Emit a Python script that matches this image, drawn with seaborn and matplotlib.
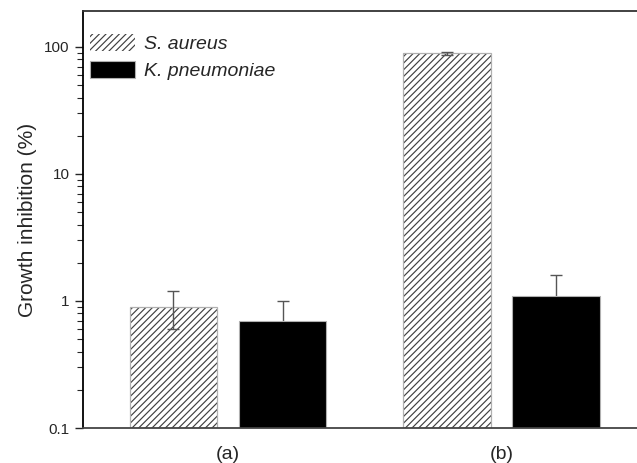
import matplotlib
matplotlib.use("Agg")
import matplotlib.pyplot as plt
from matplotlib.patches import Rectangle
import seaborn as sns
import pandas as pd
import numpy as np

categories = ["(a)", "(b)"]
species = ["S. aureus", "K. pneumoniae"]
s_aureus = [0.9, 89.0]
s_aureus_err = [0.3, 3.0]
k_pneu = [0.7, 1.1]
k_pneu_err = [0.3, 0.5]

df = pd.DataFrame({
    "cat": categories * 2,
    "species": [species[0]] * 2 + [species[1]] * 2,
    "val": s_aureus + k_pneu,
})

sns.set_style("ticks")
plt.rcParams["font.family"] = ["Liberation Sans", "DejaVu Sans"]
plt.rcParams["hatch.linewidth"] = 0.85

fig = plt.figure(figsize=(6.37, 4.63), dpi=100)
ax = fig.add_axes([83 / 637, 1 - 428 / 463, (646.5 - 83) / 637, (428 - 11) / 463])
ax.set_yscale("log")
sns.barplot(data=df, x="cat", y="val", hue="species", hue_order=species,
            palette=["white", "black"], width=0.8, gap=0.2, errorbar=None,
            legend=False, ax=ax, edgecolor="#b0b0b0", linewidth=0.8)

bar_conts = list(ax.containers)
errs = [s_aureus_err, k_pneu_err]
vals = [s_aureus, k_pneu]
for i, cont in enumerate(bar_conts):
    for j, p in enumerate(cont):
        if i == 0:
            p.set_hatch("/////")
            p.set_edgecolor("#404040")
            p.set_linewidth(0)
            outline = Rectangle(p.get_xy(), p.get_width(), p.get_height(),
                                fill=False, edgecolor="#b0b0b0", linewidth=0.9,
                                zorder=p.get_zorder() + 0.1)
            ax.add_patch(outline)
        xc = p.get_x() + p.get_width() / 2
        ax.errorbar(xc, vals[i][j], yerr=errs[i][j], color="#555555", lw=1.0,
                    capsize=4, capthick=1.0, zorder=3 if i == 0 else 0.5)

ax.set_ylim(0.1, 192)
ax.set_xlim(-0.53, 1.53)
ax.set_xlabel("")
ax.set_ylabel("Growth inhibition (%)", fontsize=15, labelpad=5)
ax.set_yticks([0.1, 1, 10, 100])
ax.set_yticklabels(["0.1", "1", "10", "100"])
ax.tick_params(axis="y", which="major", length=6, width=1, labelsize=11, direction="out")
ax.tick_params(axis="y", which="minor", length=4, width=0.8, direction="out")
ax.tick_params(axis="x", length=0, labelsize=14, pad=13)
for s in ["left", "top", "bottom"]:
    ax.spines[s].set_linewidth(1.3)
ax.spines["left"].set_color("black")
ax.spines["top"].set_color("#333333")
ax.spines["bottom"].set_color("#444444")
ax.spines["right"].set_visible(False)

handles = [bar_conts[0][0], bar_conts[1][0]]
ax.legend(handles=handles, labels=species, loc="upper left",
          bbox_to_anchor=(0.012, 0.945), frameon=False, borderaxespad=0,
          borderpad=0, handlelength=2.35, handleheight=1.0, handletextpad=0.45,
          labelspacing=0.4, prop={"style": "italic", "size": 14})

fig.savefig("out.png", dpi=100)
